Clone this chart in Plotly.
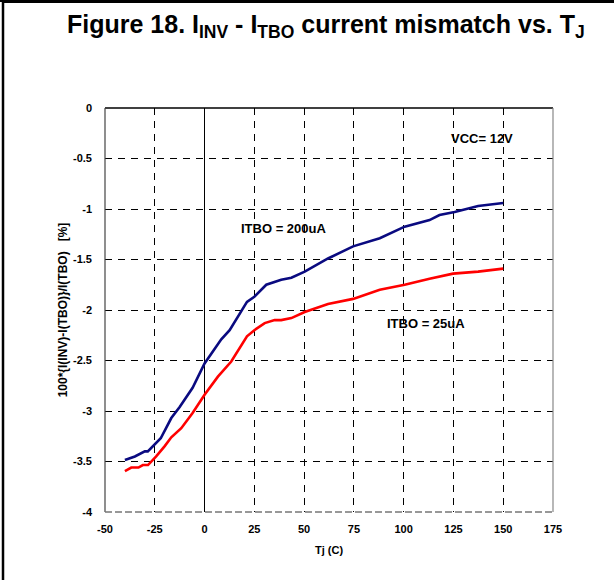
import plotly.graph_objects as go

# Data
tj_200 = [-40, -35, -30, -28.5, -22, -19, -16.7, -12.5, -6, 0, 8.4, 12.6, 21.3, 25, 31, 38.5, 43.6, 50.3, 62, 74.6, 88, 100.5, 113, 118, 125.6, 137.4, 150]
mm_200 = [-3.485, -3.45, -3.40, -3.40, -3.27, -3.155, -3.07, -2.96, -2.77, -2.53, -2.29, -2.20, -1.92, -1.87, -1.75, -1.70, -1.68, -1.62, -1.49, -1.37, -1.29, -1.175, -1.11, -1.06, -1.03, -0.97, -0.94]

tj_25 = [-40, -36.8, -33.2, -31, -28.4, -24.3, -20.1, -16.7, -11.7, -6, 0, 6.7, 13.4, 21.3, 25, 30.2, 35.2, 38.5, 43.6, 50.3, 62, 74.6, 88, 100.5, 113, 124.8, 137.4, 150]
mm_25 = [-3.595, -3.56, -3.56, -3.535, -3.535, -3.45, -3.35, -3.26, -3.17, -3.02, -2.84, -2.66, -2.51, -2.26, -2.20, -2.13, -2.10, -2.10, -2.08, -2.02, -1.94, -1.89, -1.80, -1.75, -1.69, -1.64, -1.62, -1.59]

x_tick_vals = [-50, -25, 0, 25, 50, 75, 100, 125, 150, 175]
x_tick_text = ["-50", "-25", "0", "25", "50", "75", "100", "125", "150", "175"]
y_tick_vals = [0, -0.5, -1, -1.5, -2, -2.5, -3, -3.5, -4]
y_tick_text = ["0", "-0.5", "-1", "-1.5", "-2", "-2.5", "-3", "-3.5", "-4"]

FONT = "Liberation Sans, Arial, sans-serif"

fig = go.Figure()
fig.add_trace(go.Scatter(x=tj_200, y=mm_200, mode="lines",
                         line=dict(color="#0a0a80", width=2.6), showlegend=False))
fig.add_trace(go.Scatter(x=tj_25, y=mm_25, mode="lines",
                         line=dict(color="#ff0000", width=2.6), showlegend=False))

fig.update_layout(
    width=614, height=580,
    margin=dict(l=105, r=61, t=108, b=68),
    paper_bgcolor="white", plot_bgcolor="white",
    font=dict(family=FONT, color="black"),
    xaxis=dict(range=[-50, 175], tickvals=x_tick_vals, ticktext=x_tick_text,
               showgrid=True, gridcolor="#000000", gridwidth=1, griddash="7px,6px",
               zeroline=True, zerolinecolor="#000000", zerolinewidth=1,
               showline=False, ticks="", ticklabelstandoff=9,
               tickfont=dict(size=11, family=FONT, weight="bold"),
               title=dict(text="<b>Tj (C)</b>", font=dict(size=11), standoff=12)),
    yaxis=dict(range=[-4, 0], tickvals=y_tick_vals, ticktext=y_tick_text,
               showgrid=True, gridcolor="#000000", gridwidth=1, griddash="7px,6px",
               zeroline=False, showline=False, ticks="", ticklabelstandoff=12,
               tickfont=dict(size=11, family=FONT, weight="bold"),
               title=dict(text="<b>100*{I(INV)-I(TBO)}/I(TBO)   [%]</b>", font=dict(size=12), standoff=2)),
)

# plot-area border
fig.add_shape(type="line", xref="paper", yref="paper", x0=0, x1=1, y0=1, y1=1,
              line=dict(color="black", width=1.5))
fig.add_shape(type="line", xref="paper", yref="paper", x0=0, x1=0, y0=0, y1=1,
              line=dict(color="#444444", width=1.2))
fig.add_shape(type="line", xref="paper", yref="paper", x0=1, x1=1, y0=0, y1=1,
              line=dict(color="#888888", width=1.2))
fig.add_shape(type="line", xref="paper", yref="paper", x0=0, x1=1, y0=0, y1=0,
              line=dict(color="#777777", width=1.5, dash="7px,3px"))

# outer figure frame (left and top edges)
pw, ph = 448.0, 404.0
def px(x):
    return (x - 105) / pw
def py(y):
    return (512 - y) / ph
fig.add_shape(type="line", xref="paper", yref="paper", x0=px(3), x1=px(3), y0=py(0), y1=py(600),
              line=dict(color="black", width=2.5), layer="above")
fig.add_shape(type="line", xref="paper", yref="paper", x0=px(2), x1=px(620), y0=py(1.5), y1=py(1.5),
              line=dict(color="black", width=3), layer="above")

# title
fig.add_annotation(xref="paper", yref="paper", x=px(326), y=py(26), xanchor="center", yanchor="middle",
                   text="<b>Figure 18. I<sub>INV</sub> - I<sub>TBO</sub> current mismatch vs. T<sub>J</sub></b>",
                   showarrow=False, font=dict(size=25, family=FONT, color="black"))

# in-plot labels
fig.add_annotation(x=139.5, y=-0.30, text="<b>VCC= 12V</b>", showarrow=False,
                   font=dict(size=13, family=FONT, color="black"))
fig.add_annotation(x=39.6, y=-1.19, text="<b>ITBO = 200uA</b>", showarrow=False,
                   font=dict(size=13, family=FONT, color="black"))
fig.add_annotation(x=111.4, y=-2.13, text="<b>ITBO = 25uA</b>", showarrow=False,
                   font=dict(size=13, family=FONT, color="black"))

post = (
    "document.body.style.margin='0px';"
    "var fr=document.createElement('div');"
    "fr.style.cssText='position:absolute;left:0;top:0;width:614px;height:2px;background:#000;pointer-events:none;z-index:1000;';"
    "document.body.appendChild(fr);"
)
fig.write_html("out.html", config={"displayModeBar": False}, post_script=post)
